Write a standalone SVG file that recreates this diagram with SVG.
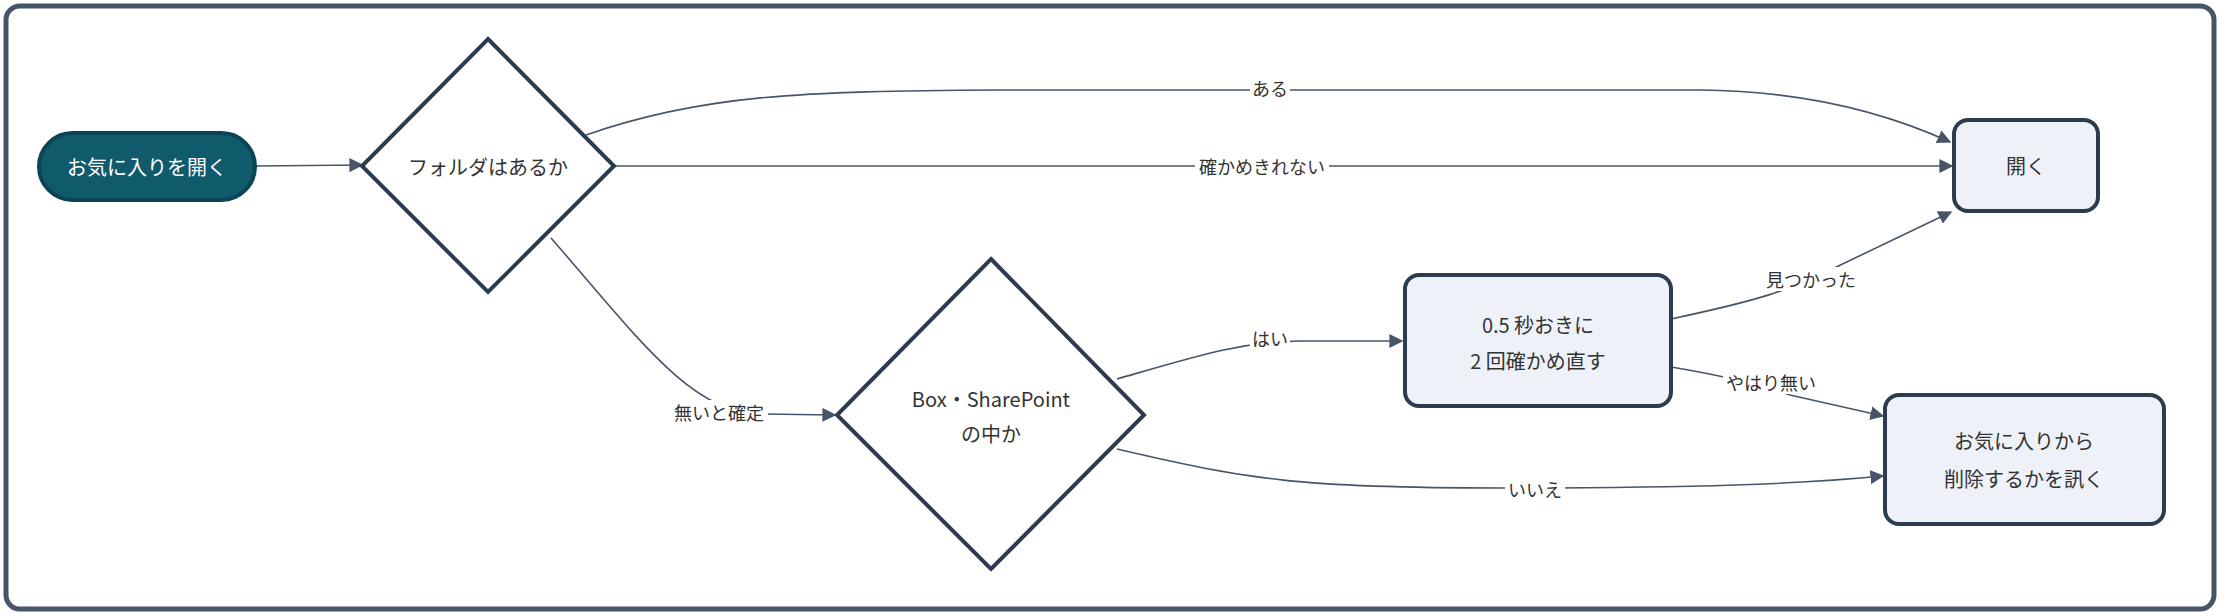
<svg xmlns="http://www.w3.org/2000/svg" width="2220" height="614" viewBox="0 0 2220 614">
<style>
text{font-family:"Noto Sans CJK JP","Noto Sans",sans-serif;fill:#333;text-anchor:middle;dominant-baseline:central}
.n{font-size:20px}
.l{font-size:18px}
.box{fill:#eef2f8;stroke:#2d3b4e;stroke-width:4}
.dia{fill:#fff;stroke:#2d3b4e;stroke-width:4}
.e{fill:none;stroke:#475569;stroke-width:1.6}
.lb{fill:#fff}
</style>
<defs><marker id="a" viewBox="0 0 10 10" refX="9" refY="5" markerWidth="10" markerHeight="10" markerUnits="userSpaceOnUse" orient="auto"><path d="M0,0L10,5L0,10z" fill="#475569"/></marker>
<marker id="ab" viewBox="0 0 10 10" refX="9" refY="5" markerWidth="14" markerHeight="14" markerUnits="userSpaceOnUse" orient="auto"><path d="M0,0L10,5L0,10z" fill="#475569"/></marker></defs>
<rect x="6" y="6" width="2208" height="603" rx="14" fill="#fff" stroke="#475569" stroke-width="5"/>
<g id="edges">
<path class="e" marker-end="url(#ab)" d="M255,166 L362,165"/>
<path class="e" marker-end="url(#ab)" d="M586,135 C700,95 800,91 1000,90 L1700,90 C1800,91 1880,110 1950,142"/>
<path class="e" marker-end="url(#ab)" d="M615,166 L1952,166"/>
<path class="e" marker-end="url(#ab)" d="M551,238 C640,340 690,412 760,414 L835,415"/>
<path class="e" marker-end="url(#ab)" d="M1117,379 C1200,355 1240,342 1300,341 L1402,341"/>
<path class="e" marker-end="url(#ab)" d="M1117,449 C1250,480 1300,488 1500,488 C1700,488 1800,484 1883,476"/>
<path class="e" marker-end="url(#ab)" d="M1671,319 C1760,300 1790,290 1830,270 L1951,212"/>
<path class="e" marker-end="url(#ab)" d="M1671,367 C1720,375 1760,385 1790,395 L1883,416"/>
<rect class="lb" x="1250" y="76" width="40" height="24"/><text class="l" x="1270" y="88">ある</text>
<rect class="lb" x="1195" y="154" width="134" height="24"/><text class="l" x="1262" y="166">確かめきれない</text>
<rect class="lb" x="670" y="400" width="98" height="24"/><text class="l" x="719" y="412">無いと確定</text>
<rect class="lb" x="1250" y="326" width="40" height="24"/><text class="l" x="1270" y="338">はい</text>
<rect class="lb" x="1763" y="267" width="96" height="24"/><text class="l" x="1811" y="279">見つかった</text>
<rect class="lb" x="1723" y="370" width="96" height="24"/><text class="l" x="1771" y="382">やはり無い</text>
<rect class="lb" x="1505" y="477" width="60" height="24"/><text class="l" x="1535" y="489">いいえ</text>
</g>
<g id="start"><rect x="39" y="133" width="216" height="67" rx="33.5" fill="#0f5a6b" stroke="#0b4454" stroke-width="4"/><text class="n" x="147" y="166" style="fill:#fff">お気に入りを開く</text></g>
<g id="q1"><polygon class="dia" points="488,39 614,166 488,292 362,166"/><text class="n" x="488" y="166">フォルダはあるか</text></g>
<g id="q2"><polygon class="dia" points="991,259 1144,415 991,569 837,415"/><text class="n" x="991" y="398">Box・SharePoint</text><text class="n" x="991" y="433">の中か</text></g>
<g id="open"><rect class="box" x="1954" y="120" width="144" height="91" rx="14"/><text class="n" x="2026" y="165">開く</text></g>
<g id="retry"><rect class="box" x="1405" y="275" width="266" height="131" rx="14"/><text class="n" x="1538" y="324">0.5 秒おきに</text><text class="n" x="1538" y="360">2 回確かめ直す</text></g>
<g id="del"><rect class="box" x="1885" y="395" width="279" height="129" rx="14"/><text class="n" x="2024" y="440">お気に入りから</text><text class="n" x="2024" y="478">削除するかを訊く</text></g>
</svg>
